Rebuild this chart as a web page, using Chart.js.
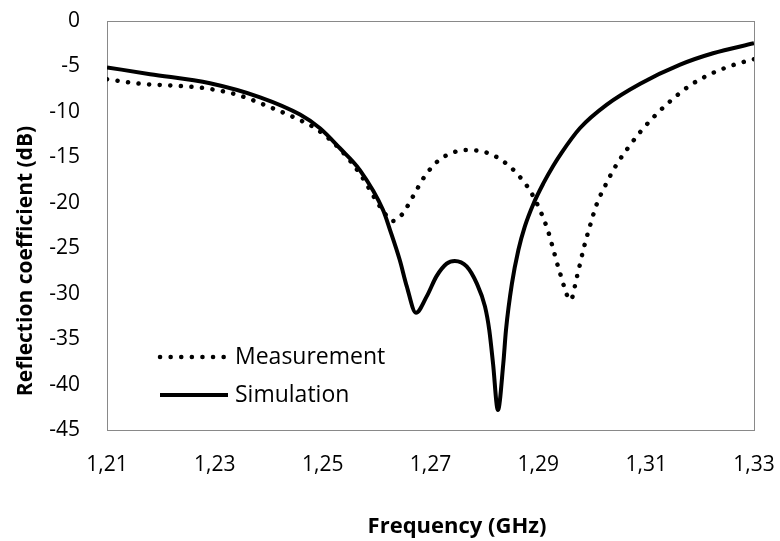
<!DOCTYPE html>
<html>
<head>
<meta charset="utf-8">
<script src="https://cdn.jsdelivr.net/npm/chart.js@4.4.1/dist/chart.umd.min.js"></script>
<style>
  html, body { margin: 0; padding: 0; background: #fff; }
  #wrap { width: 780px; height: 541px; }
</style>
</head>
<body>
<div id="wrap"><canvas id="s11-chart"></canvas></div>
<script>
// Reflection coefficient vs frequency

var simFreq = [1.2100, 1.2180, 1.2291, 1.2384, 1.2458, 1.2495, 1.2532, 1.2569, 1.2612, 1.2625, 1.2643, 1.2656,
               1.2673, 1.2693, 1.2711, 1.2730, 1.2745, 1.2767, 1.2786, 1.2801, 1.2809, 1.2816, 1.2825, 1.2835,
               1.2840, 1.2851, 1.2863, 1.2875, 1.2891, 1.2909, 1.2928, 1.2943, 1.2977, 1.3027, 1.3089, 1.3163,
               1.3224, 1.3300];
var simDb = [-5.1, -5.85, -6.85, -8.4, -10.3, -11.8, -14.0, -16.4, -20.8, -23.0, -26.3, -29.2,
             -32.1, -30.3, -28.1, -26.7, -26.4, -27.0, -28.9, -31.4, -34.0, -37.7, -42.8, -37.7,
             -34.0, -28.9, -25.2, -22.6, -20.1, -17.9, -15.9, -14.5, -11.8, -9.2, -6.9, -4.8,
             -3.55, -2.45];

var measFreq = [1.2100, 1.2161, 1.2221, 1.2282, 1.2341, 1.2399, 1.2454, 1.2489, 1.2532, 1.2569, 1.2612, 1.2630,
                1.2647, 1.2668, 1.2688, 1.2714, 1.2751, 1.2770, 1.2810, 1.2846, 1.2872, 1.2885, 1.2903, 1.2918,
                1.2929, 1.2940, 1.2960, 1.2971, 1.2985, 1.2996, 1.3008, 1.3025, 1.3044, 1.3067, 1.3092, 1.3120,
                1.3149, 1.3181, 1.3217, 1.3254, 1.3293, 1.3300];
var measDb = [-6.4, -6.9, -7.1, -7.4, -8.1, -9.4, -10.8, -11.9, -14.1, -16.8, -20.9, -22.0,
              -21.3, -19.25, -17.2, -15.4, -14.3, -14.2, -14.6, -15.95, -17.6, -18.7, -20.8, -23.1,
              -25.4, -27.7, -30.7, -28.3, -24.8, -22.5, -20.2, -18.0, -15.9, -13.9, -12.0, -10.2,
              -8.6, -7.1, -5.9, -5.0, -4.3, -4.2];

var xTicks = [1.21, 1.23, 1.25, 1.27, 1.29, 1.31, 1.33];
var yTicks = [0, -5, -10, -15, -20, -25, -30, -35, -40, -45];

var fontFamily = '"Open Sans", Lato, sans-serif';

function toPoints(xs, ys) {
    return xs.map(function (x, i) { return { x: x, y: ys[i] }; });
}

// plot frame, axis titles and the legend inside the plot
var excelLook = {
    id: 'excelLook',
    beforeDatasetsDraw: function (chart) {
        var ctx = chart.ctx, a = chart.chartArea;
        ctx.save();
        ctx.strokeStyle = '#898989';
        ctx.lineWidth = 1;
        ctx.strokeRect(Math.round(a.left) + 0.5, Math.round(a.top) + 0.5,
            Math.round(a.right - a.left), Math.round(a.bottom - a.top));
        ctx.restore();
    },
    afterDraw: function (chart) {
        var ctx = chart.ctx;
        ctx.save();
        ctx.fillStyle = '#000';
        ctx.textAlign = 'center';
        ctx.textBaseline = 'middle';
        ctx.font = 'bold 22px ' + fontFamily;
        ctx.fillText('Frequency (GHz)', 457, 527);
        ctx.font = 'bold 21px ' + fontFamily;
        ctx.translate(26, 261);
        ctx.rotate(-Math.PI / 2);
        ctx.fillText('Reflection coefficient (dB)', 0, 0);
        ctx.restore();

        // legend
        var rows = [357, 395];
        ctx.save();
        chart.data.datasets.forEach(function (ds, i) {
            var y = rows[i];
            ctx.strokeStyle = ds.borderColor;
            ctx.lineWidth = ds.borderWidth;
            ctx.lineCap = ds.borderCapStyle || 'butt';
            ctx.setLineDash(ds.borderDash || []);
            ctx.beginPath();
            ctx.moveTo(160, y);
            ctx.lineTo(228, y);
            ctx.stroke();
            ctx.setLineDash([]);
            ctx.fillStyle = '#000';
            ctx.font = '23px ' + fontFamily;
            ctx.textAlign = 'left';
            ctx.textBaseline = 'middle';
            ctx.fillText(ds.label, 235, y);
        });
        ctx.restore();
    }
};

var ctx = document.getElementById('s11-chart').getContext('2d');
var chart = new Chart(ctx, {
    type: 'line',
    data: {
        datasets: [{
            label: 'Measurement',
            data: toPoints(measFreq, measDb),
            borderColor: '#000',
            borderWidth: 4.5,
            borderDash: [0.1, 10.5],
            borderCapStyle: 'round',
            pointRadius: 0,
            fill: false,
            cubicInterpolationMode: 'monotone'
        }, {
            label: 'Simulation',
            data: toPoints(simFreq, simDb),
            borderColor: '#000',
            borderWidth: 4,
            pointRadius: 0,
            fill: false,
            cubicInterpolationMode: 'monotone'
        }]
    },
    options: {
        responsive: true,
        maintainAspectRatio: false,
        animation: false,
        layout: { padding: { top: 21, right: 26, left: 0, bottom: 0 } },
        plugins: {
            legend: { display: false },
            tooltip: { enabled: false }
        },
        scales: {
            x: {
                type: 'linear',
                min: 1.21,
                max: 1.33,
                afterBuildTicks: function (scale) {
                    scale.ticks = xTicks.map(function (v) { return { value: v }; });
                },
                afterFit: function (scale) {
                    scale.height = 111;
                    scale.paddingLeft = 0;
                    scale.paddingRight = 0;
                },
                grid: { display: false, drawTicks: false },
                border: { display: false },
                ticks: {
                    padding: 22,
                    color: '#000',
                    font: { family: fontFamily, size: 21 },
                    maxRotation: 0,
                    callback: function (v) { return v.toFixed(2).replace('.', ','); }
                }
            },
            y: {
                min: -45,
                max: 0,
                afterBuildTicks: function (scale) {
                    scale.ticks = yTicks.map(function (v) { return { value: v }; });
                },
                afterFit: function (scale) {
                    scale.width = 107;
                    scale.paddingTop = 0;
                    scale.paddingBottom = 0;
                },
                grid: { display: false, drawTicks: false },
                border: { display: false },
                ticks: {
                    padding: 27,
                    color: '#000',
                    font: { family: fontFamily, size: 21 },
                    callback: function (v) { return String(v); }
                }
            }
        }
    },
    plugins: [excelLook]
});
</script>
</body>
</html>
